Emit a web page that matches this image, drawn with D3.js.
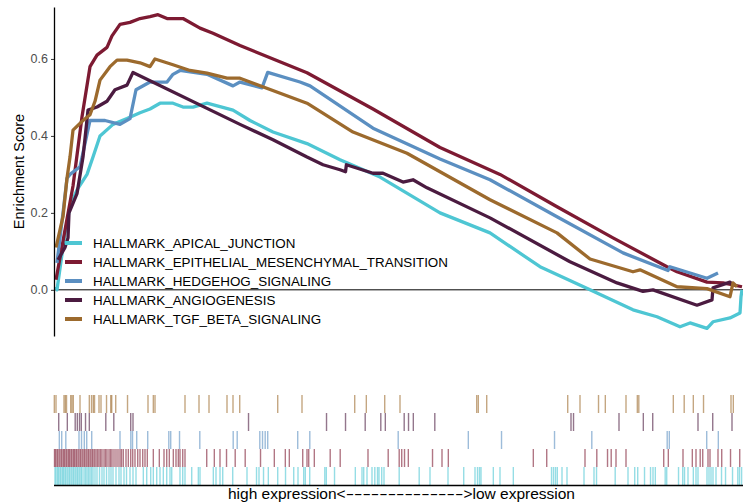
<!DOCTYPE html>
<html>
<head>
<meta charset="utf-8">
<script src="https://cdn.jsdelivr.net/npm/d3@7"></script>
<style>
  body { margin: 0; background: #ffffff; }
  text { font-family: "Liberation Sans", Arial, Helvetica, sans-serif; }
</style>
</head>
<body>
<svg id="chart" width="743" height="503"></svg>
<script>
// Gene sets, in legend / drawing order
const geneSets = [
  "HALLMARK_APICAL_JUNCTION",
  "HALLMARK_EPITHELIAL_MESENCHYMAL_TRANSITION",
  "HALLMARK_HEDGEHOG_SIGNALING",
  "HALLMARK_ANGIOGENESIS",
  "HALLMARK_TGF_BETA_SIGNALING"
];
const setColors = ["#4ec6d3", "#7d1a32", "#5b8fc1", "#4b1b40", "#9c6a2d"];

// Size of the ranked gene list
const totalGenes = 17200;

// Running enrichment score: [rank, ES]
const esApical = [
  [50, 0.008], [75, 0.0], [275, 0.148], [400, 0.216], [575, 0.26], [825, 0.30], [975, 0.345],
  [1150, 0.40], [1475, 0.43], [1825, 0.445], [2150, 0.46], [2400, 0.47], [2650, 0.485],
  [2975, 0.485], [3225, 0.475], [3475, 0.475], [3825, 0.485], [4475, 0.467], [4900, 0.44],
  [5475, 0.41], [6325, 0.38], [7150, 0.338], [8150, 0.293], [9650, 0.20], [10900, 0.148],
  [12150, 0.06], [13400, 0.0], [14475, -0.052], [15075, -0.07], [15650, -0.096], [15900, -0.086],
  [16325, -0.10], [16475, -0.083], [16900, -0.073], [17150, -0.06], [17175, -0.018], [17200, 0.0]
];
const esEmt = [
  [50, 0.026], [475, 0.27], [700, 0.45], [900, 0.58], [1075, 0.61], [1325, 0.63], [1450, 0.66],
  [1650, 0.69], [1900, 0.695], [2150, 0.705], [2400, 0.71], [2600, 0.715], [2825, 0.705],
  [3225, 0.705], [3650, 0.68], [3975, 0.667], [4650, 0.635], [6325, 0.564], [7975, 0.47],
  [9650, 0.37], [11150, 0.30], [12575, 0.216], [13975, 0.135], [15325, 0.06], [15575, 0.047],
  [16325, 0.02], [16725, 0.018], [17200, 0.008]
];
const esHedgehog = [
  [75, 0.07], [225, 0.20], [325, 0.29], [400, 0.30], [650, 0.32], [900, 0.44], [1275, 0.44],
  [1650, 0.43], [1900, 0.445], [2050, 0.52], [2400, 0.54], [2825, 0.54], [2975, 0.56],
  [3150, 0.57], [3825, 0.56], [4475, 0.53], [4650, 0.54], [5200, 0.525], [5343, 0.565],
  [6150, 0.54], [6400, 0.53], [7975, 0.42], [9650, 0.34], [10900, 0.286], [12575, 0.19],
  [14225, 0.096], [15350, 0.05], [15400, 0.06], [16325, 0.03], [16600, 0.044]
];
const esAngio = [
  [100, 0.078], [275, 0.11], [350, 0.135], [375, 0.20], [575, 0.25], [725, 0.345], [850, 0.467],
  [1075, 0.475], [1325, 0.49], [1525, 0.52], [1825, 0.532], [1975, 0.565], [4650, 0.43],
  [5475, 0.39], [6325, 0.345], [6725, 0.325], [7150, 0.312], [7288, 0.307], [7310, 0.325],
  [7975, 0.303], [8225, 0.303], [8725, 0.28], [8975, 0.286], [9325, 0.265], [10900, 0.187],
  [12900, 0.073], [14075, 0.018], [14725, -0.004], [14975, 0.0], [16075, -0.04], [16450, -0.026],
  [16475, 0.005], [16900, 0.02], [16975, 0.01]
];
const esTgf = [
  [50, 0.11], [150, 0.156], [225, 0.19], [325, 0.29], [400, 0.345], [475, 0.415], [725, 0.44],
  [900, 0.455], [1025, 0.49], [1150, 0.545], [1400, 0.58], [1575, 0.597], [1825, 0.597],
  [2150, 0.59], [2400, 0.58], [2525, 0.60], [2975, 0.585], [3400, 0.57], [3825, 0.563],
  [4325, 0.55], [4650, 0.55], [6325, 0.485], [7475, 0.41], [8825, 0.355], [10900, 0.234],
  [12575, 0.148], [13400, 0.08], [14475, 0.047], [14650, 0.052], [15575, 0.008], [16325, 0.003],
  [16900, -0.018], [16975, 0.018], [17075, 0.008]
];
const esSeries = [esApical, esEmt, esHedgehog, esAngio, esTgf];

// Ranks of gene-set members in the ordered list
const hitsApical = [
  25, 50, 88, 113, 150, 175, 213, 238, 275, 300, 338, 375, 400, 438, 475, 500, 538, 575, 600, 638,
  675, 700, 750, 788, 825, 863, 900, 938, 975, 1025, 1075, 1138, 1200, 1250, 1313, 1375, 1425,
  1475, 1550, 1625, 1675, 1750, 1813, 1900, 1975, 2050, 2233, 2318, 2418, 2483, 2568, 2650, 2733,
  2818, 2900, 2943, 3150, 3218, 3275, 3443, 3608, 3650, 3983, 4050, 4150, 4218, 4468, 4825, 5063,
  5125, 5238, 5358, 5593, 5788, 5993, 6100, 6243, 6283, 6393, 6770, 6808, 7013, 7533, 7700, 7743,
  7825, 7950, 8020, 8088, 8125, 8193, 8250, 8630, 9130, 9400, 9850, 10243, 10525, 10588, 10638,
  10675, 10983, 11150, 11483, 12438, 12488, 12538, 12583, 12700, 12825, 13250, 13500, 13563,
  14030, 14350, 14518, 14593, 14763, 14913, 14975, 15033, 15280, 15318, 15613, 15718, 15763,
  15850, 15983, 16050, 16100, 16325, 16375, 16425, 16475, 16550, 16688, 16788, 16963, 17095,
  17138, 17190
];
const hitsEmt = [
  13, 38, 75, 100, 138, 175, 200, 238, 263, 300, 325, 363, 388, 425, 450, 488, 513, 550, 575, 613,
  650, 675, 713, 750, 775, 813, 850, 875, 913, 950, 975, 1013, 1050, 1088, 1125, 1163, 1200, 1250,
  1288, 1325, 1375, 1413, 1450, 1500, 1550, 1600, 1650, 1688, 1733, 1800, 1858, 1918, 1968, 2025,
  2093, 2150, 2218, 2275, 2333, 2483, 2633, 2750, 2818, 2883, 2983, 3050, 3108, 3150, 3218, 3275,
  3818, 4008, 4150, 4313, 4530, 4780, 5163, 5508, 5783, 5883, 6218, 6325, 6368, 6508, 6905, 7155,
  7850, 8355, 8630, 8693, 8763, 8858, 9463, 9700, 9858, 11983, 12318, 13275, 13570, 13838, 13930,
  14050, 14300, 15243, 15358, 15725, 15958, 16050, 16155, 16218, 16350, 16400, 16600, 16693,
  16913, 17143
];
const hitsHedgehog = [
  133, 193, 295, 625, 688, 758, 818, 943, 1650, 1920, 1963, 2068, 2343, 2870, 2918, 3138, 3645,
  4480, 4580, 5145, 5213, 5280, 5343, 6093, 6395, 8605, 10358, 11188, 12513, 13445, 15330, 15383,
  16318, 16608
];
const hitsAngio = [
  118, 333, 530, 583, 638, 683, 788, 883, 1295, 1495, 1918, 1975, 4863, 6813, 7288, 7780, 8170,
  8283, 8755, 8863, 8983, 9520, 12925, 12988, 14125, 14733, 14968, 16100, 16468, 16950
];
const hitsTgf = [
  8, 50, 250, 283, 313, 418, 450, 483, 650, 883, 938, 983, 1013, 1125, 1175, 1313, 1418, 1443,
  1543, 1838, 2350, 2483, 2525, 3275, 3625, 3875, 4325, 4475, 4643, 5593, 6200, 7518, 7808, 8268,
  8650, 10568, 10608, 10818, 12843, 13150, 13613, 13783, 14300, 14583, 14620, 15483, 15755,
  15983, 16238, 16925, 16983
];
const hitSeries = [hitsApical, hitsEmt, hitsHedgehog, hitsAngio, hitsTgf];

const yTicks = [0.0, 0.2, 0.4, 0.6];
const yTitle = "Enrichment Score";
// direction label: left part, arrow shaft, right part
const xTitleParts = ["high expression<", "--------------", ">low expression"];

// ---- layout ----
const svg = d3.select("#chart");
const plotLeft = 54, plotRight = 742;

const x = d3.scaleLinear().domain([0, totalGenes]).range([plotLeft, plotRight]);
const y = d3.scaleLinear().domain([-0.12, 0.735]).range([336, 7]);

// zero reference line
svg.append("line")
  .attr("x1", plotLeft).attr("x2", 743)
  .attr("y1", y(0)).attr("y2", y(0))
  .attr("stroke", "#000").attr("stroke-width", 1);

// running ES curves
const line = d3.line().x(d => x(d[0])).y(d => y(d[1]));
svg.append("g").selectAll("path")
  .data(esSeries)
  .join("path")
  .attr("d", line)
  .attr("fill", "none")
  .attr("stroke", (d, i) => setColors[i])
  .attr("stroke-width", 3.3)
  .attr("stroke-linejoin", "round");

// y axis
const yAxis = svg.append("g")
  .attr("transform", `translate(${plotLeft},0)`)
  .call(d3.axisLeft(y).tickValues(yTicks).tickFormat(d3.format(".1f"))
    .tickSizeInner(3).tickSizeOuter(0).tickPadding(3));
yAxis.select(".domain").attr("stroke", "#000").attr("stroke-width", 1.3);
yAxis.selectAll(".tick line").attr("stroke", "#333").attr("stroke-width", 1);
yAxis.selectAll(".tick text")
  .attr("fill", "#4d4d4d")
  .style("font-size", "12.5px");

svg.append("text")
  .attr("transform", `translate(19,${(y(-0.12) + y(0.735)) / 2}) rotate(-90)`)
  .attr("text-anchor", "middle")
  .attr("dominant-baseline", "central")
  .style("font-size", "14.5px")
  .attr("fill", "#000")
  .text(yTitle);

// legend
const legendRow = d3.scalePoint().domain(d3.range(geneSets.length)).range([243, 319]);
const legend = svg.append("g").selectAll("g")
  .data(geneSets)
  .join("g")
  .attr("transform", (d, i) => `translate(0,${legendRow(i)})`);
legend.append("line")
  .attr("x1", 65).attr("x2", 82)
  .attr("stroke", (d, i) => setColors[i])
  .attr("stroke-width", 4);
legend.append("text")
  .attr("x", 93)
  .attr("dominant-baseline", "central")
  .style("font-size", "13.4px")
  .attr("fill", "#000")
  .text(d => d);

// rug of gene-set hits, TGF on top, apical junction at the bottom
const rugOrder = [4, 3, 2, 1, 0];
const rugBand = d3.scaleBand().domain(rugOrder).range([395, 485]).padding(0);
const rug = svg.append("g");
rugOrder.forEach(si => {
  rug.append("g").selectAll("line")
    .data(hitSeries[si])
    .join("line")
    .attr("x1", d => x(d)).attr("x2", d => x(d))
    .attr("y1", rugBand(si)).attr("y2", rugBand(si) + rugBand.bandwidth())
    .attr("stroke", setColors[si])
    .attr("stroke-width", 1.4)
    .attr("stroke-opacity", 0.6);
});

svg.append("line")
  .attr("x1", plotLeft).attr("x2", 743)
  .attr("y1", 485.5).attr("y2", 485.5)
  .attr("stroke", "#000").attr("stroke-width", 1.5);

// direction label: two words with a long arrow shaft stretched between them
const labelY = 499, labelFont = "15.5px";
const labelLeft = 228, labelRight = 575;
const leftPart = svg.append("text")
  .attr("x", labelLeft).attr("y", labelY)
  .style("font-size", labelFont).attr("fill", "#000")
  .text(xTitleParts[0]);
const rightPart = svg.append("text")
  .attr("x", labelRight).attr("y", labelY)
  .attr("text-anchor", "end")
  .style("font-size", labelFont).attr("fill", "#000")
  .text(xTitleParts[2]);
const shaftStart = labelLeft + leftPart.node().getComputedTextLength();
const shaftEnd = labelRight - rightPart.node().getComputedTextLength();
const shaft = svg.append("text")
  .attr("y", labelY)
  .style("font-size", labelFont).attr("fill", "#000")
  .text(xTitleParts[1]);
const shaftLen = shaft.node().getComputedTextLength();
shaft.attr("transform", `translate(${shaftStart},0) scale(${(shaftEnd - shaftStart) / shaftLen},1)`);
</script>
</body>
</html>
